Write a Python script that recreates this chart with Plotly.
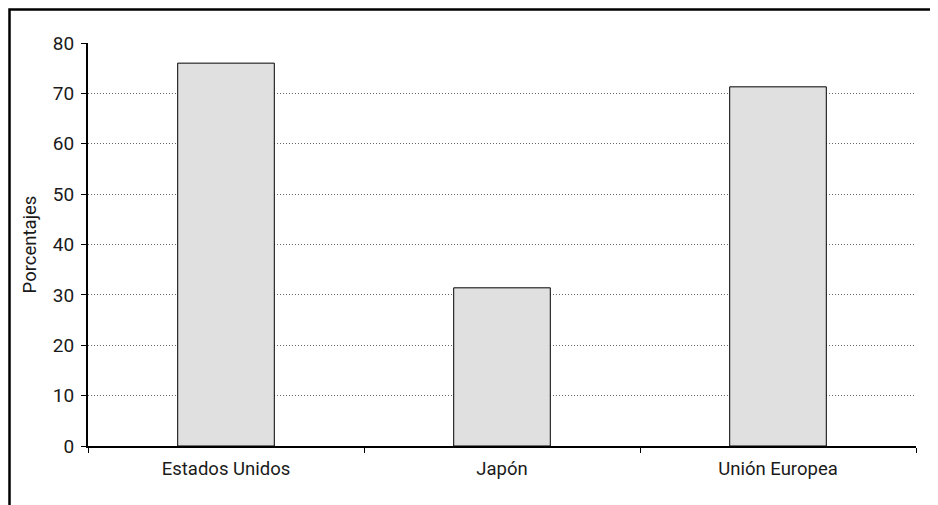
import plotly.graph_objects as go

categories = ["Estados Unidos", "Japón", "Unión Europea"]
values = [76.0, 31.4, 71.3]
y_ticks = [0, 10, 20, 30, 40, 50, 60, 70, 80]

W, H = 938, 505
OFF = 8  # page body margin offset
L, T = 88 - OFF, 43 - OFF
R = W - (916 - OFF)
B = H - (446 - OFF)
pw, ph = W - L - R, H - T - B

FONT = "Roboto, Liberation Sans, sans-serif"

fig = go.Figure(go.Bar(
    x=categories, y=values,
    marker=dict(color="#e0e0e0", line=dict(color="black", width=1)),
    width=0.35,
))

fig.update_layout(
    width=W, height=H,
    margin=dict(l=L, r=R, t=T, b=B, autoexpand=False),
    paper_bgcolor="white", plot_bgcolor="white",
    font=dict(family=FONT, size=18, color="#1a1a1a"),
    showlegend=False,
    shapes=[dict(
        type="rect", xref="paper", yref="paper",
        x0=(1.5 - L) / pw, x1=(935 - OFF - L) / pw,
        y0=(H - 540 - B) / ph, y1=(H - 1.5 - B) / ph,
        line=dict(color="black", width=2.5), fillcolor="rgba(0,0,0,0)",
        layer="below",
    )],
)

fig.update_xaxes(
    type="category", tickson="boundaries", automargin=False,
    showline=True, linecolor="black", linewidth=2,
    ticks="outside", ticklen=5, tickcolor="black", tickwidth=1,
    showgrid=False, tickfont=dict(size=18.5), ticklabelstandoff=5,
)
fig.update_yaxes(
    range=[0, 80], tickvals=y_ticks, automargin=False,
    showline=True, linecolor="black", linewidth=2,
    ticks="outside", ticklen=5, tickcolor="black", tickwidth=1,
    showgrid=True, gridcolor="#666", griddash="1px,2px", gridwidth=1,
    zeroline=False, tickfont=dict(size=19), ticklabelstandoff=3,
    title=dict(text="Porcentajes", font=dict(size=18.5), standoff=11),
)

fig.write_html("out.html")
